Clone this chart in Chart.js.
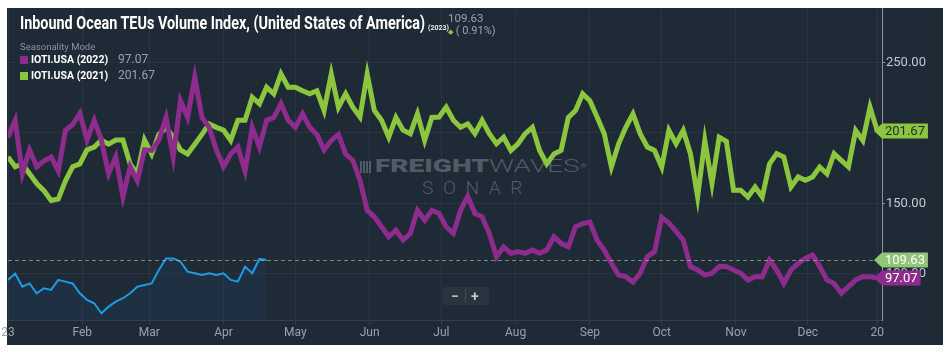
<!DOCTYPE html>
<html>
<head>
<meta charset="utf-8">
<script src="https://cdn.jsdelivr.net/npm/chart.js@4"></script>
<style>
  html, body { margin: 0; padding: 0; background: #fff; }
  body { width: 950px; height: 352px; position: relative; overflow: hidden; font-family: Roboto, sans-serif; }
  #panel { position: absolute; left: 7px; top: 8px; width: 936px; height: 337px; background: #1e2a35; }
  #chart { position: absolute; left: 0; top: 0; z-index: 2; }
  .abs { position: absolute; white-space: nowrap; }
  #wm { z-index: 1; color: #525b65; }
  #title { left: 20px; top: 14px; font-size: 18px; line-height: 18px; font-weight: 700; color: #fff; transform-origin: left center; z-index: 3; }
  #yr { left: 428px; top: 24px; font-size: 7px; font-weight: 700; color: #e8ecef; z-index: 3; }
  #last { left: 448px; top: 11px; font-size: 11.5px; color: #9aa3ad; z-index: 3; }
  #chg { left: 448px; top: 24px; font-size: 11px; color: #9aa3ad; z-index: 3; }
  #chg b { color: #8cc63f; font-size: 7px; font-weight: 400; }
  #mode { left: 20px; top: 41px; font-size: 9.5px; color: #8a939d; z-index: 3; }
  .leg { left: 20px; font-size: 10.5px; font-weight: 700; color: #fff; z-index: 3; }
  .leg i { display: inline-block; width: 8px; height: 8px; margin-right: 3px; vertical-align: -1px; }
  .leg span { font-weight: 400; color: #9aa3ad; font-size: 12px; margin-left: 10px; }
  #zoombox { left: 443px; top: 287px; width: 46px; height: 18px; background: rgba(255,255,255,0.05); border-radius: 3px; z-index: 3; color: #c0c6cc; font-size: 14px; font-weight: 700; line-height: 18px; }
</style>
</head>
<body>
<div id="panel"></div>

<div id="wm" class="abs" style="left:0;top:0;width:950px;height:352px;">
  <div class="abs" style="left:360px;top:161px;width:11px;height:12px;background:repeating-linear-gradient(90deg,#525b65 0 2px,transparent 2px 3px);"></div>
  <div id="fw" class="abs" style="left:375px;top:156px;font-size:18px;line-height:20px;transform-origin:left center;"><span style="font-weight:900;">FREIGHT</span><span style="font-weight:300;">WAVES</span><span style="font-size:6px;vertical-align:top;">®</span></div>
  <div id="sonar" class="abs" style="left:422px;top:178px;font-size:18px;line-height:20px;font-weight:300;letter-spacing:9px;transform-origin:left center;">SONAR</div>
</div>

<canvas id="chart" width="950" height="352"></canvas>

<div id="title" class="abs">Inbound Ocean TEUs Volume Index, (United States of America)</div>
<div id="yr" class="abs">(2023)</div>
<div id="last" class="abs">109.63</div>
<div id="chg" class="abs"><b>◆</b> ( 0.91%)</div>
<div id="mode" class="abs">Seasonality Mode</div>
<div class="abs leg" style="top:52px;"><i style="background:#8e2c8e"></i>IOTI.USA (2022)<span>97.07</span></div>
<div class="abs leg" style="top:68px;"><i style="background:#8cc63f"></i>IOTI.USA (2021)<span>201.67</span></div>
<div id="zoombox" class="abs"><span style="position:absolute;left:8px;">−</span><span style="position:absolute;left:22px;top:2px;width:1px;height:14px;background:rgba(255,255,255,0.12)"></span><span style="position:absolute;left:28px;">+</span></div>

<script>
// samples every STEP days, day 0 = Jan 1
const STEP = 3;

const tickDays = [0, 31, 59, 90, 120, 151, 181, 212, 243, 273, 304, 334, 363];
const tickLabels = ['23', 'Feb', 'Mar', 'Apr', 'May', 'Jun', 'Jul', 'Aug', 'Sep', 'Oct', 'Nov', 'Dec', '20'];
const yTicks = [100, 150, 200, 250];

const iotiUsa2022 = [
  197, 209, 171, 188, 176, 180, 183, 173, 202, 206, 214, 195, 209, 195, 171, 183, 154.5, 176, 166, 188,
  187.6, 195, 211, 183, 223, 211, 239.6, 211, 204, 188, 176, 185, 190, 173, 204, 190, 209, 211, 220.7, 209,
  204, 213.6, 204, 199, 188, 194.7, 199, 185, 180.5, 166.4, 145, 140.4, 133.3, 126.2, 130.9, 123.8, 128.5, 145, 138, 145,
  142.7, 133.3, 128.5, 145, 155, 142.7, 140.4, 128.5, 112, 119, 114.4, 115.6, 114.4, 116.7, 114.4, 116.7, 126.2, 121.5, 119, 133.3, 135.6,
  136.8, 123.8, 116.7, 107.3, 99, 97.8, 94, 100.2, 112, 115.6, 140, 136, 130, 123.8, 105, 102.6, 99, 100.2, 105, 105,
  102.6, 100.2, 95.5, 97.8, 97.8, 109.6, 102.6, 93, 102.6, 107.3, 110.8, 113.2, 105, 95.5, 93, 86, 90.7, 95.5, 97.8, 97.8, 97.07
];

const iotiUsa2021 = [
  183, 176, 178, 171, 164, 159, 152, 153, 166, 176, 178, 188, 190, 195, 192, 195, 195, 178, 171, 195,
  185, 199, 204, 197, 188, 185, 192, 199, 206.5, 204, 202, 194.7, 209, 209, 225.4, 220.7, 232.5, 227.8, 242, 232.5,
  232.5, 230, 227.8, 230, 216, 242, 218.3, 227.8, 218.3, 211.3, 242, 216, 209, 197, 211, 202, 199.5, 213.6, 194.7, 211,
  211.3, 218.3, 209, 204, 206.5, 199.5, 209, 199.5, 192.3, 197, 187.6, 192.3, 199.5, 204, 187.6, 178, 185, 187.6, 211, 216, 227.8,
  223, 211.3, 199.5, 175.8, 192.3, 204, 213.6, 199.5, 190, 187.6, 175.8, 201.8, 192.3, 201.8, 185.3, 154.5, 194.7, 164, 197, 194,
  159.3, 159.3, 154.5, 161.6, 154.5, 178, 185.3, 182.9, 161.6, 168.7, 166.4, 168.7, 175.8, 171, 185.3, 180.5, 175.8, 201.8, 194.7, 218.3, 201.67
];

const iotiUsa2023 = [
  95.5, 100, 90.7, 93, 86, 89.6, 88.4, 95.5, 94.3, 93, 86, 81.3, 78.9, 71.8, 76.5, 80, 82.5, 86, 90.7, 91.9,
  93, 102.6, 110.8, 110.8, 108.5, 101.4, 100.2, 99, 100.2, 99, 100.2, 95.5, 94.3, 105, 100.2, 110.4, 109.63
];

const tags = [
  { value: 109.63, text: '109.63', bg: '#92c47a', fg: '#ffffff', dashed: true },
  { value: 201.67, text: '201.67', bg: '#8cc63f', fg: '#1e2a35' },
  { value: 97.07, text: '97.07', bg: '#8e2c8e', fg: '#ffffff' }
];

const toPoints = vals => vals.map((v, i) => ({ x: i * STEP, y: v }));

// dashed last-value line and the value tags on the right axis
const tagPlugin = {
  id: 'tags',
  afterDraw(chart) {
    const ctx = chart.ctx;
    const area = chart.chartArea;
    const yScale = chart.scales.y;
    ctx.save();
    ctx.font = '13px Roboto';
    tags.forEach(t => {
      const y = Math.round(yScale.getPixelForValue(t.value));
      const w = ctx.measureText(t.text).width + 6;
      const x0 = area.right;
      if (t.dashed) {
        ctx.strokeStyle = 'rgba(150,180,135,0.75)';
        ctx.lineWidth = 1;
        ctx.setLineDash([4, 3]);
        ctx.beginPath();
        ctx.moveTo(area.left, y + 0.5);
        ctx.lineTo(x0 - 8, y + 0.5);
        ctx.stroke();
        ctx.setLineDash([]);
      }
      ctx.fillStyle = t.bg;
      ctx.beginPath();
      ctx.moveTo(x0 - 8, y);
      ctx.lineTo(x0, y - 7.5);
      ctx.lineTo(x0 + w, y - 7.5);
      ctx.lineTo(x0 + w, y + 7.5);
      ctx.lineTo(x0, y + 7.5);
      ctx.closePath();
      ctx.fill();
      ctx.fillStyle = t.fg;
      ctx.textBaseline = 'middle';
      ctx.textAlign = 'left';
      ctx.fillText(t.text, x0 + 3, y + 1);
    });
    ctx.restore();
  }
};

Chart.defaults.font.family = 'Roboto';

new Chart(document.getElementById('chart'), {
  type: 'line',
  data: {
    datasets: [
      {
        data: toPoints(iotiUsa2023),
        borderColor: '#1b9be8',
        borderWidth: 2,
        fill: 'start',
        backgroundColor: 'rgba(35,80,140,0.16)'
      },
      {
        data: toPoints(iotiUsa2022),
        borderColor: '#8e2c8e',
        borderWidth: 5
      },
      {
        data: toPoints(iotiUsa2021),
        borderColor: '#8cc63f',
        borderWidth: 5
      }
    ]
  },
  options: {
    responsive: false,
    animation: false,
    elements: { point: { radius: 0 }, line: { tension: 0 } },
    layout: { padding: { left: 8, top: 8, right: 0, bottom: 0 } },
    plugins: { legend: { display: false }, tooltip: { enabled: false } },
    scales: {
      x: {
        type: 'linear',
        min: 0,
        max: 365,
        afterBuildTicks: s => { s.ticks = tickDays.map(v => ({ value: v })); },
        afterFit: s => { s.height = 32; },
        ticks: {
          autoSkip: false,
          maxRotation: 0,
          padding: 1,
          color: '#9aa3ad',
          font: { size: 12 },
          callback: (v, i) => tickLabels[i]
        },
        grid: { color: 'rgba(255,255,255,0.05)', tickLength: 5, tickColor: 'rgba(255,255,255,0.08)' },
        border: { color: 'rgba(255,255,255,0.1)' }
      },
      y: {
        position: 'right',
        min: 67,
        max: 288.3,
        afterBuildTicks: s => { s.ticks = yTicks.map(v => ({ value: v })); },
        afterFit: s => { s.width = 68; },
        ticks: {
          padding: 1,
          color: '#c3c9cf',
          font: { size: 13 },
          callback: v => Number(v).toFixed(2)
        },
        grid: { color: 'rgba(255,255,255,0.05)', tickLength: 3, tickColor: '#8a939c' },
        border: { color: '#8a939c' }
      }
    }
  },
  plugins: [tagPlugin]
});

// squeeze condensed-looking texts to the widths seen in the picture
function fitWidth(id, target) {
  const el = document.getElementById(id);
  const w = el.getBoundingClientRect().width;
  el.style.transform = 'scaleX(' + (target / w) + ')';
}
fitWidth('title', 405);
fitWidth('fw', 212);
fitWidth('sonar', 110);
</script>
</body>
</html>
